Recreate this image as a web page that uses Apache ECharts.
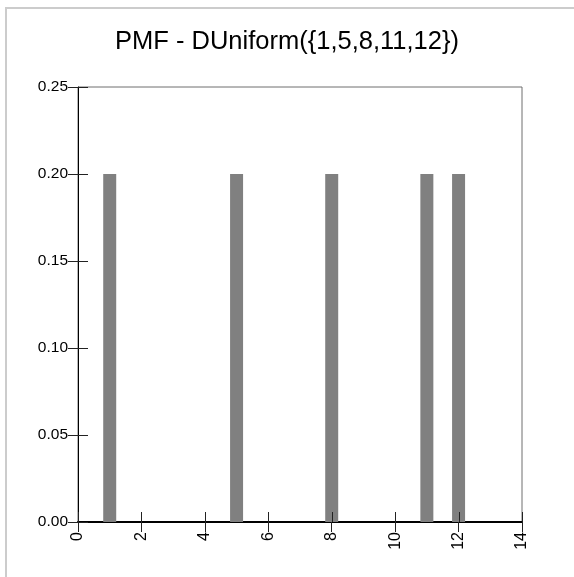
<!DOCTYPE html>
<html>
<head>
<meta charset="utf-8">
<script src="https://cdn.jsdelivr.net/npm/echarts@6/dist/echarts.min.js"></script>
<style>
html,body{margin:0;padding:0;background:#fff;}
#chart{width:574px;height:577px;}
</style>
</head>
<body>
<div id="chart"></div>
<script>
const titleText = 'PMF - DUniform({1,5,8,11,12})';
const support = [1, 5, 8, 11, 12];
const probs = [0.2, 0.2, 0.2, 0.2, 0.2];
const xTicks = [0, 2, 4, 6, 8, 10, 12, 14];
const yTicks = [0.00, 0.05, 0.10, 0.15, 0.20, 0.25];

const chart = echarts.init(document.getElementById('chart'), null, {renderer: 'canvas'});
const font = 'Liberation Sans, Arial, sans-serif';
const xMin = xTicks[0], xMax = xTicks[xTicks.length - 1], xInt = xTicks[1] - xTicks[0];
const yMin = yTicks[0], yMax = yTicks[yTicks.length - 1], yInt = yTicks[1] - yTicks[0];
const tickColor = '#222';
const innerLen = 10;

chart.setOption({
  animation: false,
  backgroundColor: '#fff',
  title: {
    text: titleText, left: 'center', top: 24,
    textStyle: {fontFamily: font, fontSize: 25.5, fontWeight: 'normal', color: '#000'}
  },
  graphic: [
    {type: 'rect', shape: {x: 5, y: 7, width: 569, height: 2}, style: {fill: '#cccccc'}, silent: true},
    {type: 'rect', shape: {x: 5, y: 7, width: 2, height: 570}, style: {fill: '#cccccc'}, silent: true}
  ],
  grid: {left: 78, right: 52, top: 87, bottom: 55, show: true, borderColor: '#6e6e6e', borderWidth: 1, backgroundColor: 'transparent'},
  xAxis: {
    type: 'value', min: xMin, max: xMax, interval: xInt, position: 'bottom',
    splitLine: {show: false},
    axisLine: {show: true, onZero: false, lineStyle: {color: '#000', width: 2}},
    axisTick: {show: true, inside: false, length: 10, lineStyle: {color: tickColor, width: 1}},
    axisLabel: {show: true, rotate: 90, margin: 10, fontFamily: font, fontSize: 16, color: '#000',
      showMinLabel: true, showMaxLabel: true}
  },
  yAxis: {
    type: 'value', min: yMin, max: yMax, interval: yInt, position: 'left',
    splitLine: {show: false},
    axisLine: {show: true, onZero: false, lineStyle: {color: '#000', width: 1}},
    axisTick: {show: true, inside: false, length: 10, lineStyle: {color: tickColor, width: 1}},
    axisLabel: {show: true, margin: 10, fontFamily: font, fontSize: 15.5, color: '#000',
      formatter: v => v.toFixed(2), showMinLabel: true, showMaxLabel: true}
  },
  series: [
    {
      type: 'bar',
      barWidth: 13,
      itemStyle: {color: '#808080'},
      data: support.map((x, i) => [x, probs[i]])
    },
    {
      type: 'custom', silent: true, clip: false, z: 5,
      data: xTicks.map(v => [v, yMin]),
      renderItem: function (params, api) {
        const p = api.coord([api.value(0), api.value(1)]);
        const x = Math.round(p[0]) + 0.5;
        return {type: 'line', shape: {x1: x, y1: p[1], x2: x, y2: p[1] - innerLen},
          style: {stroke: tickColor, lineWidth: 1}};
      }
    },
    {
      type: 'custom', silent: true, clip: false, z: 5,
      data: yTicks.map(v => [xMin, v]),
      renderItem: function (params, api) {
        const p = api.coord([api.value(0), api.value(1)]);
        const y = Math.round(p[1]) + 0.5;
        return {type: 'line', shape: {x1: p[0], y1: y, x2: p[0] + innerLen, y2: y},
          style: {stroke: tickColor, lineWidth: 1}};
      }
    }
  ]
});
</script>
</body>
</html>
